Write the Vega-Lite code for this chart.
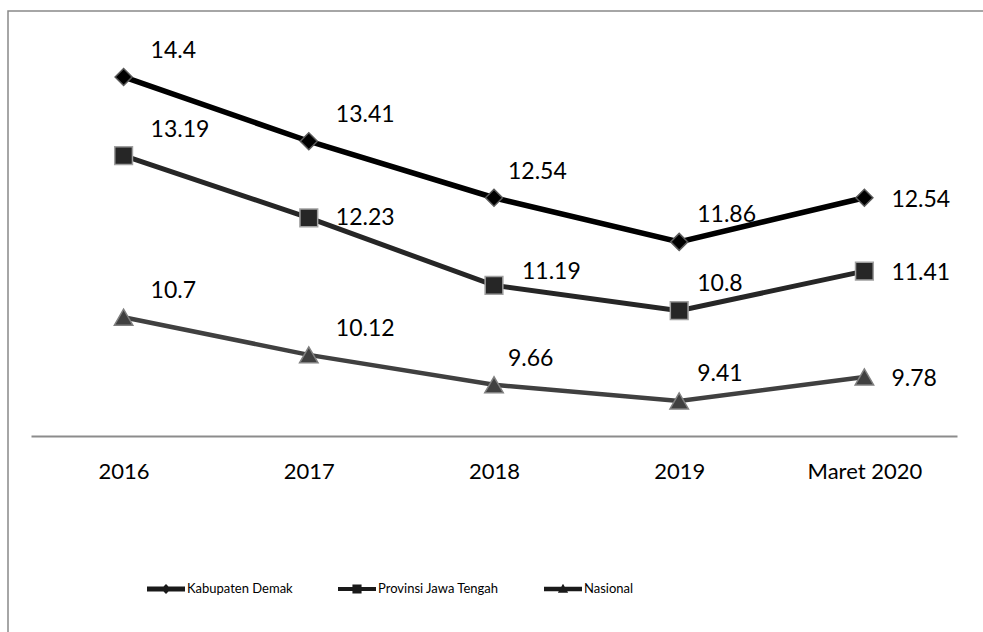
{
  "$schema": "https://vega.github.io/schema/vega-lite/v6.json",
  "width": 980,
  "height": 626,
  "autosize": "none",
  "padding": {"left": 8, "top": 11, "right": -5, "bottom": -5},
  "background": "white",
  "config": {"view": {"stroke": "#898989", "strokeWidth": 1.5}, "font": "Lato"},
  "data": {
    "values": [
      {"period": "2016", "series": "Kabupaten Demak", "value": 14.4},
      {"period": "2017", "series": "Kabupaten Demak", "value": 13.41},
      {"period": "2018", "series": "Kabupaten Demak", "value": 12.54},
      {"period": "2019", "series": "Kabupaten Demak", "value": 11.86},
      {"period": "Maret 2020", "series": "Kabupaten Demak", "value": 12.54},
      {"period": "2016", "series": "Provinsi Jawa Tengah", "value": 13.19},
      {"period": "2017", "series": "Provinsi Jawa Tengah", "value": 12.23},
      {"period": "2018", "series": "Provinsi Jawa Tengah", "value": 11.19},
      {"period": "2019", "series": "Provinsi Jawa Tengah", "value": 10.8},
      {"period": "Maret 2020", "series": "Provinsi Jawa Tengah", "value": 11.41},
      {"period": "2016", "series": "Nasional", "value": 10.7},
      {"period": "2017", "series": "Nasional", "value": 10.12},
      {"period": "2018", "series": "Nasional", "value": 9.66},
      {"period": "2019", "series": "Nasional", "value": 9.41},
      {"period": "Maret 2020", "series": "Nasional", "value": 9.78}
    ]
  },
  "encoding": {
    "x": {
      "field": "period",
      "type": "ordinal",
      "sort": ["2016", "2017", "2018", "2019", "Maret 2020"],
      "scale": {"type": "point", "range": [23, 949], "padding": 0.5},
      "axis": {
        "orient": "bottom",
        "offset": -201,
        "title": null,
        "domainColor": "#8c8c8c",
        "domainWidth": 2,
        "ticks": false,
        "grid": false,
        "labelAngle": 0,
        "labelFont": "Lato",
        "labelFontSize": 22,
        "labelColor": "black",
        "labelPadding": 25
      }
    },
    "y": {
      "field": "value",
      "type": "quantitative",
      "scale": {"domain": [5.775, 15.416], "nice": false, "zero": false},
      "axis": null
    }
  },
  "resolve": {"scale": {"shape": "independent"}},
  "layer": [
    {
      "mark": {"type": "line", "strokeCap": "butt"},
      "encoding": {
        "color": {
          "field": "series",
          "type": "nominal",
          "scale": {
            "domain": ["Kabupaten Demak", "Provinsi Jawa Tengah", "Nasional"],
            "range": ["#000000", "#262626", "#404040"]
          },
          "legend": null
        },
        "strokeWidth": {
          "field": "series",
          "type": "nominal",
          "scale": {
            "domain": ["Kabupaten Demak", "Provinsi Jawa Tengah", "Nasional"],
            "range": [5.5, 4.5, 5]
          },
          "legend": null
        }
      }
    },
    {
      "mark": {"type": "point", "filled": true, "opacity": 1, "strokeWidth": 1.5},
      "encoding": {
        "shape": {
          "field": "series",
          "type": "nominal",
          "scale": {
            "domain": ["Kabupaten Demak", "Provinsi Jawa Tengah", "Nasional"],
            "range": ["diamond", "square", "triangle-up"]
          },
          "legend": null
        },
        "fill": {
          "field": "series",
          "type": "nominal",
          "scale": {
            "domain": ["Kabupaten Demak", "Provinsi Jawa Tengah", "Nasional"],
            "range": ["#000000", "#262626", "#404040"]
          },
          "legend": null
        },
        "stroke": {
          "field": "series",
          "type": "nominal",
          "scale": {
            "domain": ["Kabupaten Demak", "Provinsi Jawa Tengah", "Nasional"],
            "range": ["#595959", "#a0a0a0", "#808080"]
          },
          "legend": null
        },
        "size": {
          "field": "series",
          "type": "nominal",
          "scale": {
            "domain": ["Kabupaten Demak", "Provinsi Jawa Tengah", "Nasional"],
            "range": [289, 340, 380]
          },
          "legend": null
        }
      }
    },
    {
      "transform": [{"filter": "false"}],
      "mark": {"type": "point", "filled": true, "size": 1444, "color": "#1a1a1a", "opacity": 1},
      "encoding": {
        "shape": {
          "field": "series",
          "type": "nominal",
          "scale": {
            "domain": ["Kabupaten Demak", "Provinsi Jawa Tengah", "Nasional"],
            "range": [
              "M-1,-0.13H1V0.13H-1Z M0,-0.26L0.26,0L0,0.26L-0.26,0Z",
              "M-1,-0.11H1V0.11H-1Z M-0.24,-0.24H0.24V0.24H-0.24Z",
              "M-1,-0.12H1V0.12H-1Z M0,-0.28L0.27,0.2H-0.27Z"
            ]
          },
          "legend": {
            "orient": "none",
            "legendX": 139,
            "legendY": 559,
            "direction": "horizontal",
            "title": null,
            "columnPadding": 45,
            "labelOffset": 2,
            "symbolSize": 1444,
            "symbolFillColor": "#1a1a1a",
            "symbolStrokeWidth": 0,
            "symbolOpacity": 1,
            "padding": 0,
            "labelFont": "Lato",
            "labelFontSize": 13,
            "labelColor": "black"
          }
        }
      }
    },
    {
      "transform": [{"filter": "(datum.period == '2016' || datum.period == '2017') && !(datum.series == 'Provinsi Jawa Tengah' && datum.period == '2017')"}],
      "mark": {"type": "text", "align": "left", "baseline": "middle", "dx": 27, "dy": -26, "fontSize": 23, "color": "black", "font": "Lato"},
      "encoding": {"text": {"field": "value", "type": "quantitative", "format": ".4~g"}}
    },
    {
      "transform": [{"filter": "datum.series == 'Provinsi Jawa Tengah' && datum.period == '2017'"}],
      "mark": {"type": "text", "align": "left", "baseline": "middle", "dx": 27, "dy": 0, "fontSize": 23, "color": "black", "font": "Lato"},
      "encoding": {"text": {"field": "value", "type": "quantitative", "format": ".4~g"}}
    },
    {
      "transform": [{"filter": "datum.period == '2018' && datum.series != 'Provinsi Jawa Tengah'"}],
      "mark": {"type": "text", "align": "left", "baseline": "middle", "dx": 14, "dy": -26, "fontSize": 23, "color": "black", "font": "Lato"},
      "encoding": {"text": {"field": "value", "type": "quantitative", "format": ".4~g"}}
    },
    {
      "transform": [{"filter": "datum.period == '2018' && datum.series == 'Provinsi Jawa Tengah'"}],
      "mark": {"type": "text", "align": "left", "baseline": "middle", "dx": 28, "dy": -13, "fontSize": 23, "color": "black", "font": "Lato"},
      "encoding": {"text": {"field": "value", "type": "quantitative", "format": ".4~g"}}
    },
    {
      "transform": [{"filter": "datum.period == '2019'"}],
      "mark": {"type": "text", "align": "left", "baseline": "middle", "dx": 18, "dy": -27, "fontSize": 23, "color": "black", "font": "Lato"},
      "encoding": {"text": {"field": "value", "type": "quantitative", "format": ".4~g"}}
    },
    {
      "transform": [{"filter": "datum.period == 'Maret 2020'"}],
      "mark": {"type": "text", "align": "left", "baseline": "middle", "dx": 27, "dy": 2, "fontSize": 23, "color": "black", "font": "Lato"},
      "encoding": {"text": {"field": "value", "type": "quantitative", "format": ".4~g"}}
    }
  ]
}
